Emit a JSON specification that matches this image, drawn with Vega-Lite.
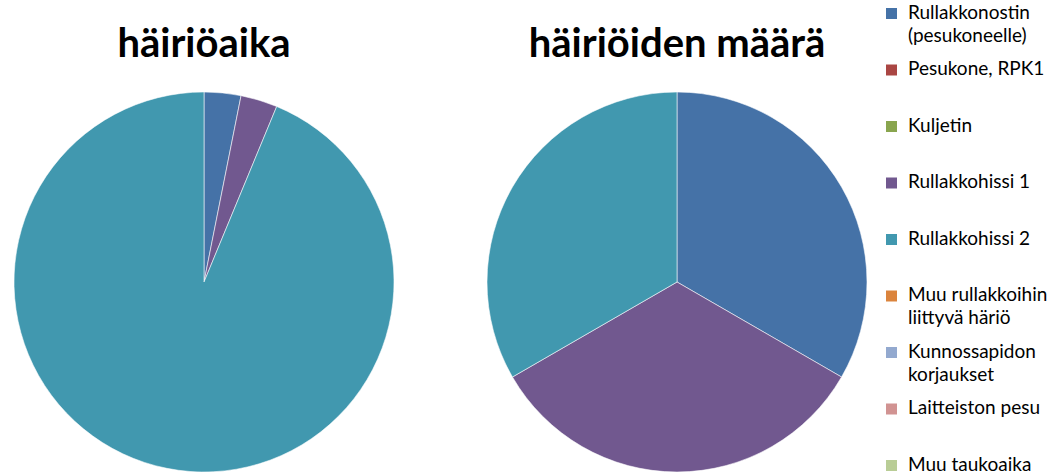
{
  "$schema": "https://vega.github.io/schema/vega-lite/v6.json",
  "padding": {"left": 12, "top": 4, "right": 0, "bottom": 0},
  "background": "white",
  "config": {"view": {"stroke": null}, "font": "Lato"},
  "data": {"values": [
    {"chart": "häiriöaika", "category": "Rullakkonostin (pesukoneelle)", "idx": 1, "value": 5},
    {"chart": "häiriöaika", "category": "Rullakkohissi 1", "idx": 4, "value": 5},
    {"chart": "häiriöaika", "category": "Rullakkohissi 2", "idx": 5, "value": 150},
    {"chart": "häiriöiden määrä", "category": "Rullakkonostin (pesukoneelle)", "idx": 1, "value": 1},
    {"chart": "häiriöiden määrä", "category": "Rullakkohissi 1", "idx": 4, "value": 1},
    {"chart": "häiriöiden määrä", "category": "Rullakkohissi 2", "idx": 5, "value": 1}
  ]},
  "facet": {
    "column": {
      "field": "chart", "type": "nominal", "sort": ["häiriöaika", "häiriöiden määrä"],
      "header": {"title": null, "labelFontSize": 40, "labelFontWeight": "bold", "labelFont": "Lato", "labelColor": "black", "labelPadding": 25}
    }
  },
  "spacing": 89,
  "spec": {
    "width": 380,
    "height": 380,
    "mark": {"type": "arc", "stroke": "white", "strokeWidth": 0.8, "strokeOpacity": 0.7},
    "encoding": {
      "theta": {"field": "value", "type": "quantitative", "stack": true},
      "order": {"field": "idx", "type": "quantitative"},
      "color": {
        "field": "category", "type": "nominal",
        "scale": {
          "domain": ["Rullakkonostin (pesukoneelle)", "Pesukone, RPK1", "Kuljetin", "Rullakkohissi 1", "Rullakkohissi 2", "Muu rullakkoihin liittyvä häriö", "Kunnossapidon korjaukset", "Laitteiston pesu", "Muu taukoaika"],
          "range": ["#4572A7", "#AA4643", "#89A54E", "#71588F", "#4198AF", "#DB843D", "#93A9CF", "#D19392", "#B9CD96"]
        },
        "legend": {
          "title": null,
          "orient": "none",
          "legendX": 868,
          "legendY": -88,
          "symbolType": "square",
          "symbolSize": 121,
          "symbolStrokeWidth": 0,
          "labelFont": "Lato",
          "labelFontSize": 19,
          "labelColor": "black",
          "labelBaseline": "top",
          "labelLimit": 200,
          "labelOffset": 7,
          "rowPadding": 13.5,
          "encoding": {"labels": {"dy": {"value": -10}, "lineHeight": {"value": 23}}},
          "labelExpr": "datum.label == 'Rullakkonostin (pesukoneelle)' ? ['Rullakkonostin', '(pesukoneelle)'] : datum.label == 'Muu rullakkoihin liittyvä häriö' ? ['Muu rullakkoihin', 'liittyvä häriö'] : datum.label == 'Kunnossapidon korjaukset' ? ['Kunnossapidon', 'korjaukset'] : [datum.label, ' ']"
        }
      }
    }
  }
}
